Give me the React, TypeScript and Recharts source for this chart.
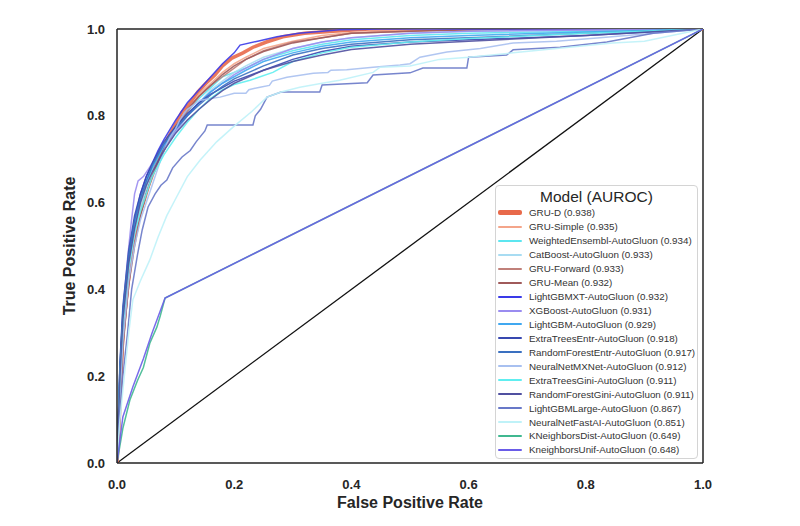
import { LineChart, Line, XAxis, YAxis, ReferenceLine, Legend } from "recharts";

type Pt = [number, number];

// ROC points, [false positive rate, true positive rate]
const gruD: Pt[] = [[0,0],[0.003,0.07],[0.01,0.3],[0.016,0.38],[0.022,0.45],[0.027,0.507],[0.036,0.567],[0.045,0.6],[0.053,0.636],[0.062,0.67],[0.07,0.698],[0.079,0.72],[0.087,0.749],[0.1,0.78],[0.111,0.809],[0.125,0.83],[0.138,0.855],[0.152,0.875],[0.167,0.894],[0.18,0.915],[0.196,0.933],[0.215,0.945],[0.232,0.958],[0.255,0.97],[0.283,0.982],[0.32,0.99],[0.369,0.995],[0.43,1],[1,1]];
const gruSimple: Pt[] = [[0,0],[0.004,0.1],[0.01,0.28],[0.02,0.43],[0.03,0.52],[0.04,0.58],[0.05,0.62],[0.06,0.66],[0.07,0.69],[0.08,0.72],[0.1,0.77],[0.12,0.81],[0.14,0.85],[0.16,0.875],[0.18,0.9],[0.2,0.92],[0.22,0.935],[0.25,0.955],[0.3,0.972],[0.35,0.985],[0.4,0.992],[0.5,0.997],[0.6,1],[1,1]];
const weighted: Pt[] = [[0,0],[0.005,0.2],[0.01,0.32],[0.02,0.46],[0.03,0.55],[0.04,0.6],[0.05,0.64],[0.06,0.68],[0.08,0.73],[0.1,0.775],[0.12,0.81],[0.14,0.84],[0.16,0.865],[0.18,0.89],[0.2,0.9],[0.22,0.91],[0.25,0.93],[0.3,0.95],[0.35,0.965],[0.4,0.975],[0.5,0.985],[0.6,0.99],[0.8,0.995],[1,1]];
const catBoost: Pt[] = [[0,0],[0.005,0.18],[0.01,0.3],[0.02,0.44],[0.03,0.53],[0.04,0.59],[0.05,0.63],[0.06,0.67],[0.08,0.72],[0.1,0.76],[0.12,0.8],[0.14,0.83],[0.16,0.86],[0.18,0.88],[0.2,0.9],[0.22,0.915],[0.25,0.935],[0.3,0.955],[0.35,0.97],[0.4,0.98],[0.5,0.99],[0.6,0.995],[1,1]];
const gruForward: Pt[] = [[0,0],[0.004,0.08],[0.01,0.26],[0.02,0.42],[0.03,0.51],[0.04,0.57],[0.05,0.62],[0.06,0.66],[0.07,0.69],[0.08,0.72],[0.1,0.77],[0.12,0.81],[0.14,0.845],[0.16,0.87],[0.18,0.89],[0.2,0.91],[0.22,0.93],[0.25,0.95],[0.3,0.97],[0.35,0.98],[0.4,0.99],[0.5,0.995],[0.6,1],[1,1]];
const gruMean: Pt[] = [[0,0],[0.004,0.09],[0.01,0.27],[0.02,0.41],[0.03,0.5],[0.04,0.57],[0.05,0.62],[0.06,0.66],[0.07,0.695],[0.08,0.725],[0.1,0.775],[0.12,0.815],[0.14,0.845],[0.16,0.87],[0.18,0.895],[0.2,0.915],[0.22,0.93],[0.25,0.948],[0.3,0.968],[0.35,0.98],[0.4,0.99],[0.5,0.995],[0.65,1],[1,1]];
const lgbmXT: Pt[] = [[0,0],[0.005,0.2],[0.01,0.33],[0.02,0.47],[0.03,0.56],[0.04,0.62],[0.05,0.66],[0.06,0.69],[0.07,0.72],[0.08,0.745],[0.1,0.79],[0.12,0.83],[0.14,0.86],[0.16,0.89],[0.18,0.92],[0.2,0.945],[0.21,0.963],[0.24,0.972],[0.273,0.982],[0.31,0.99],[0.38,0.998],[0.45,1],[1,1]];
const xgBoost: Pt[] = [[0,0],[0.004,0.14],[0.008,0.27],[0.012,0.38],[0.018,0.47],[0.024,0.55],[0.03,0.62],[0.036,0.65],[0.045,0.66],[0.055,0.68],[0.065,0.7],[0.08,0.73],[0.1,0.765],[0.12,0.8],[0.14,0.83],[0.16,0.855],[0.18,0.875],[0.2,0.895],[0.22,0.91],[0.25,0.93],[0.3,0.955],[0.35,0.97],[0.4,0.98],[0.5,0.99],[0.6,0.995],[1,1]];
const lgbm: Pt[] = [[0,0],[0.005,0.22],[0.01,0.34],[0.02,0.47],[0.03,0.55],[0.04,0.61],[0.05,0.65],[0.06,0.68],[0.08,0.73],[0.1,0.77],[0.12,0.8],[0.14,0.83],[0.16,0.855],[0.18,0.875],[0.2,0.89],[0.22,0.905],[0.25,0.925],[0.3,0.945],[0.35,0.96],[0.4,0.97],[0.5,0.98],[0.6,0.985],[0.8,0.993],[1,1]];
const etEntr: Pt[] = [[0,0],[0.005,0.23],[0.01,0.36],[0.02,0.49],[0.03,0.57],[0.04,0.62],[0.05,0.66],[0.06,0.69],[0.08,0.74],[0.1,0.775],[0.12,0.805],[0.14,0.83],[0.16,0.85],[0.18,0.865],[0.2,0.88],[0.25,0.905],[0.3,0.93],[0.35,0.948],[0.4,0.96],[0.5,0.97],[0.6,0.975],[0.8,0.985],[1,1]];
const rfEntr: Pt[] = [[0,0],[0.005,0.22],[0.01,0.35],[0.02,0.48],[0.03,0.56],[0.04,0.61],[0.05,0.65],[0.06,0.685],[0.08,0.735],[0.1,0.77],[0.12,0.8],[0.14,0.825],[0.16,0.848],[0.18,0.868],[0.2,0.885],[0.25,0.915],[0.3,0.94],[0.35,0.955],[0.4,0.965],[0.5,0.975],[0.6,0.98],[0.8,0.99],[1,1]];
const mxNet: Pt[] = [[0,0],[0.005,0.15],[0.01,0.28],[0.02,0.42],[0.03,0.5],[0.04,0.56],[0.05,0.6],[0.06,0.64],[0.07,0.68],[0.08,0.72],[0.09,0.75],[0.1,0.77],[0.107,0.79],[0.12,0.815],[0.142,0.836],[0.16,0.84],[0.176,0.843],[0.2,0.852],[0.22,0.852],[0.225,0.86],[0.244,0.866],[0.26,0.87],[0.265,0.88],[0.29,0.889],[0.335,0.898],[0.36,0.9],[0.365,0.905],[0.392,0.906],[0.437,0.912],[0.483,0.917],[0.5,0.92],[0.517,0.935],[0.563,0.947],[0.62,0.955],[0.676,0.968],[0.75,0.972],[0.819,0.979],[0.915,0.99],[1,1]];
const etGini: Pt[] = [[0,0],[0.005,0.2],[0.01,0.32],[0.02,0.45],[0.03,0.53],[0.04,0.58],[0.05,0.62],[0.06,0.66],[0.08,0.71],[0.1,0.75],[0.12,0.785],[0.14,0.815],[0.16,0.84],[0.18,0.86],[0.2,0.872],[0.227,0.882],[0.266,0.9],[0.3,0.925],[0.35,0.945],[0.4,0.958],[0.5,0.97],[0.6,0.978],[0.8,0.99],[1,1]];
const rfGini: Pt[] = [[0,0],[0.005,0.2],[0.01,0.33],[0.02,0.46],[0.03,0.54],[0.04,0.6],[0.05,0.64],[0.06,0.67],[0.08,0.72],[0.1,0.76],[0.12,0.79],[0.14,0.815],[0.16,0.838],[0.18,0.858],[0.2,0.875],[0.25,0.905],[0.3,0.925],[0.35,0.94],[0.4,0.953],[0.5,0.965],[0.6,0.972],[0.8,0.985],[1,1]];
const lgbmLarge: Pt[] = [[0,0],[0.004,0.1],[0.01,0.2],[0.018,0.3],[0.025,0.4],[0.035,0.48],[0.043,0.537],[0.053,0.59],[0.065,0.62],[0.075,0.64],[0.085,0.652],[0.095,0.68],[0.111,0.705],[0.125,0.72],[0.135,0.74],[0.15,0.765],[0.154,0.779],[0.232,0.779],[0.236,0.8],[0.245,0.815],[0.256,0.843],[0.28,0.855],[0.346,0.855],[0.35,0.871],[0.427,0.876],[0.437,0.894],[0.5,0.899],[0.522,0.91],[0.597,0.91],[0.6,0.935],[0.665,0.94],[0.676,0.952],[0.756,0.958],[0.836,0.97],[0.915,0.99],[1,1]];
const fastAI: Pt[] = [[0,0],[0.005,0.1],[0.014,0.22],[0.02,0.3],[0.027,0.376],[0.04,0.42],[0.056,0.468],[0.07,0.52],[0.085,0.57],[0.099,0.606],[0.12,0.66],[0.142,0.698],[0.17,0.74],[0.198,0.774],[0.23,0.81],[0.256,0.843],[0.28,0.855],[0.312,0.866],[0.35,0.875],[0.38,0.882],[0.437,0.9],[0.449,0.912],[0.5,0.915],[0.55,0.93],[0.6,0.935],[0.676,0.945],[0.75,0.955],[0.846,0.968],[0.9,0.972],[1,1]];
const knnDist: Pt[] = [[0,0],[0.01,0.08],[0.022,0.145],[0.035,0.19],[0.045,0.22],[0.056,0.276],[0.068,0.313],[0.074,0.34],[0.082,0.38],[1,1]];
const knnUnif: Pt[] = [[0,0],[0.01,0.106],[0.027,0.175],[0.045,0.24],[0.06,0.3],[0.082,0.38],[1,1]];

const modelNames = [
  "GRU-D", "GRU-Simple", "WeightedEnsembl-AutoGluon", "CatBoost-AutoGluon", "GRU-Forward", "GRU-Mean",
  "LightGBMXT-AutoGluon", "XGBoost-AutoGluon", "LightGBM-AutoGluon", "ExtraTreesEntr-AutoGluon",
  "RandomForestEntr-AutoGluon", "NeuralNetMXNet-AutoGluon", "ExtraTreesGini-AutoGluon", "RandomForestGini-AutoGluon",
  "LightGBMLarge-AutoGluon", "NeuralNetFastAI-AutoGluon", "KNeighborsDist-AutoGluon", "KneighborsUnif-AutoGluon",
];
const aurocs = ["0.938", "0.935", "0.934", "0.933", "0.933", "0.932", "0.932", "0.931", "0.929", "0.918", "0.917", "0.912", "0.911", "0.911", "0.867", "0.851", "0.649", "0.648"];
const curves = [gruD, gruSimple, weighted, catBoost, gruForward, gruMean, lgbmXT, xgBoost, lgbm, etEntr, rfEntr, mxNet, etGini, rfGini, lgbmLarge, fastAI, knnDist, knnUnif];
const colors = ["#e8694a", "#f4a58a", "#5ce6f0", "#a8dcf2", "#c0807a", "#a05a5a", "#3a3ae8", "#9a8cf0", "#40a8f0", "#3848b0", "#3a70c0", "#a8c0f0", "#60eef0", "#5050a0", "#6878c8", "#bff2f8", "#40b890", "#6a5ce8"];

const diagonal: Pt[] = [[0, 0], [1, 1]];
const ticks = [0, 0.2, 0.4, 0.6, 0.8, 1.0];

const rows = (pts: Pt[]) => pts.map(([fpr, tpr]) => ({ fpr, tpr }));
const font = "'Liberation Sans', Arial, sans-serif";
const tickStyle = { fontSize: 13, fontWeight: 700, fill: "#262626", fontFamily: font };

const LegendBox = () => (
  <div style={{ border: "1px solid #d4d4d4", borderRadius: 4, background: "rgba(255,255,255,0.9)", paddingTop: 2, paddingBottom: 1, fontFamily: font, boxSizing: "border-box" }}>
    <div style={{ textAlign: "center", fontSize: 15.5, lineHeight: "18px", color: "#262626" }}>Model (AUROC)</div>
    {modelNames.map((n, i) => (
      <div key={n} style={{ display: "flex", alignItems: "center", height: 13.94 }}>
        <span style={{ display: "inline-block", width: 24, height: i === 0 ? 5 : 2, background: colors[i], marginLeft: 2, marginRight: 7, borderRadius: 2 }} />
        <span style={{ fontSize: 9.8, color: "#333", whiteSpace: "nowrap" }}>{n} ({aurocs[i]})</span>
      </div>
    ))}
  </div>
);

export default function App() {
  return (
    <div style={{ position: "absolute", left: 0, top: 0, width: 800, height: 526, background: "#fff" }}>
      <LineChart width={800} height={526} margin={{ top: 29, right: 97, left: 0, bottom: 0 }}>
        <XAxis
          dataKey="fpr" type="number" domain={[0, 1]} ticks={ticks} tickFormatter={(v: number) => v.toFixed(1)}
          height={63} tickSize={0} tickMargin={17} tick={tickStyle} allowDataOverflow
          axisLine={{ stroke: "#222", strokeWidth: 1.5 }}
          label={{ value: "False Positive Rate", position: "insideBottom", offset: 18, style: { fontSize: 16, fontWeight: 700, fill: "#262626", fontFamily: font } }}
        />
        <YAxis
          dataKey="tpr" type="number" domain={[0, 1]} ticks={ticks} tickFormatter={(v: number) => v.toFixed(1)}
          width={117} tickSize={0} tickMargin={12} tick={tickStyle} allowDataOverflow
          axisLine={{ stroke: "#222", strokeWidth: 1.5 }}
          label={{ value: "True Positive Rate", angle: -90, position: "insideLeft", offset: 69, style: { textAnchor: "middle", fontSize: 16, fontWeight: 700, fill: "#262626", fontFamily: font } }}
        />
        <ReferenceLine y={1} stroke="#222" strokeWidth={1.5} />
        <ReferenceLine x={1} stroke="#222" strokeWidth={1.5} />
        <Line data={rows(diagonal)} dataKey="tpr" stroke="#111" strokeWidth={1.3} dot={false} activeDot={false} isAnimationActive={false} legendType="none" />
        {curves.map((c, i) => (
          <Line
            key={modelNames[i]} name={`${modelNames[i]} (${aurocs[i]})`} data={rows(c)} dataKey="tpr" type="linear"
            stroke={colors[i]} strokeWidth={i === 0 ? 3.5 : 1.5} strokeOpacity={0.9}
            dot={false} activeDot={false} isAnimationActive={false}
          />
        ))}
        <Legend layout="vertical" align="center" verticalAlign="middle" content={LegendBox} wrapperStyle={{ left: 495, top: 185, width: 203, height: 273 }} />
      </LineChart>
    </div>
  );
}
